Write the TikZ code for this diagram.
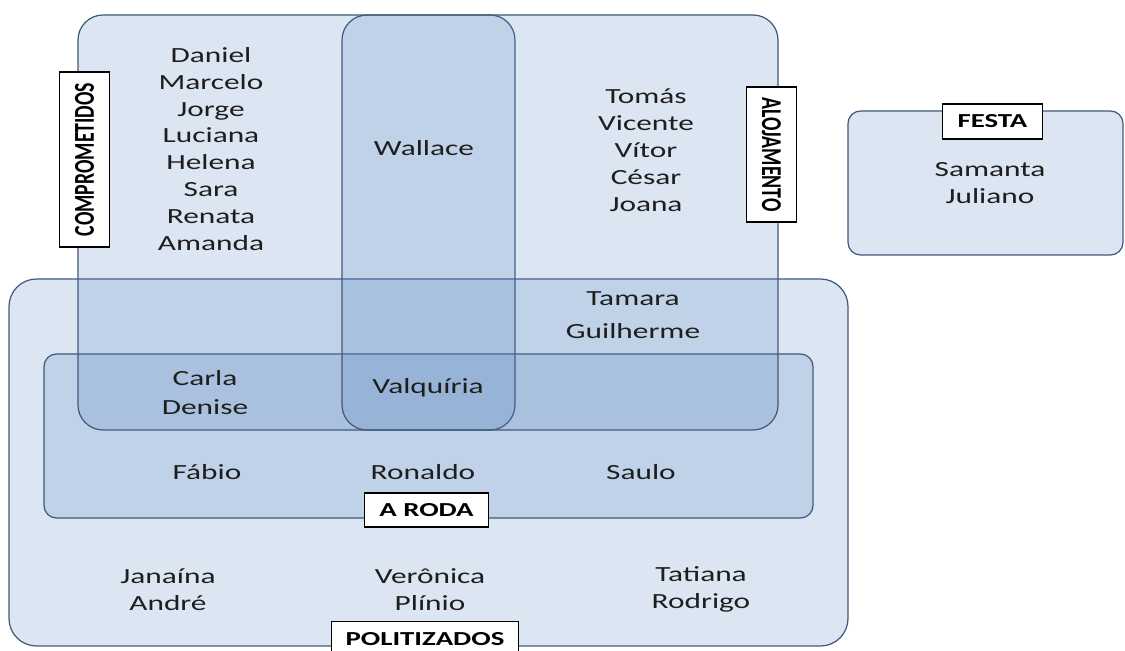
\documentclass[tikz,border=0pt]{standalone}
\usepackage{fontspec}
\setmainfont{Carlito}
\definecolor{setfill}{RGB}{79,129,189}
\definecolor{setline}{RGB}{66,88,122}
\definecolor{names}{RGB}{30,30,30}
\begin{document}
\begin{tikzpicture}[x=0.02cm,y=-0.02cm,
 conj/.style={draw=setline,line width=0.7pt,fill=setfill,fill opacity=0.2},
 nomes/.style={xscale=1.45,align=center,text=names,font=\fontsize{12.3}{15.3}\selectfont},
 rotulo/.style={xscale=1.45,draw=black,fill=white,line width=0.6pt,inner sep=0pt,
  font=\bfseries\fontsize{11.3}{12}\selectfont,minimum height=0.7cm}]
\useasboundingbox (0,0) rectangle (1125,651);
% the sets
\draw[conj,rounded corners=0.55cm] (9,279) rectangle (848,646);
\draw[conj,rounded corners=0.25cm] (44,354) rectangle (813,518);
\draw[conj,rounded corners=0.5cm] (78,15) rectangle (515,430);
\draw[conj,rounded corners=0.5cm] (342,15) rectangle (778,430);
\draw[conj,rounded corners=0.25cm] (848,111) rectangle (1123,255);

% the people
\node[nomes] (comp) at (211,149) {Daniel\\Marcelo\\Jorge\\Luciana\\Helena\\Sara\\Renata\\Amanda};
\node[nomes] (wall) at (424,148) {Wallace};
\node[nomes] (aloj) at (646,150) {Tomás\\Vicente\\Vítor\\César\\Joana};
\node[nomes] (fest) at (990,183.5) {Samanta\\Juliano};
\node[nomes,font=\fontsize{12.3}{18.8}\selectfont] (tama) at (633,315.5) {Tamara\\Guilherme};
\node[nomes,font=\fontsize{12.3}{16.4}\selectfont] (carl) at (205,392.5) {Carla\\Denise};
\node[nomes] (valq) at (428,388) {Valquíria};
\node[nomes] (fabi) at (207,472) {Fábio};
\node[nomes] (rona) at (423,472) {Ronaldo};
\node[nomes] (saul) at (641,472) {Saulo};
\node[nomes] (jana) at (168,589.5) {Janaína\\André};
\node[nomes] (vero) at (430,589.5) {Verônica\\Plínio};
\node[nomes] (tati) at (701,589.5) {Tatiana\\Rodrigo};

% the set names
\node[rotulo,rotate=90,minimum width=3.5cm] (Lcomp) at (84.5,159.5) {COMPROMETIDOS};
\node[rotulo,rotate=-90,minimum width=2.7cm,minimum height=0.68cm] (Laloj) at (771.5,154.5) {ALOJAMENTO};
\node[rotulo,minimum width=1.37cm] (Lfest) at (992.5,121.5) {FESTA};
\node[rotulo,minimum width=1.72cm,minimum height=0.68cm] (Lroda) at (426.5,510) {A RODA};
\node[rotulo,minimum width=2.57cm] (Lpoli) at (425,639) {POLITIZADOS};
\end{tikzpicture}
\end{document}
